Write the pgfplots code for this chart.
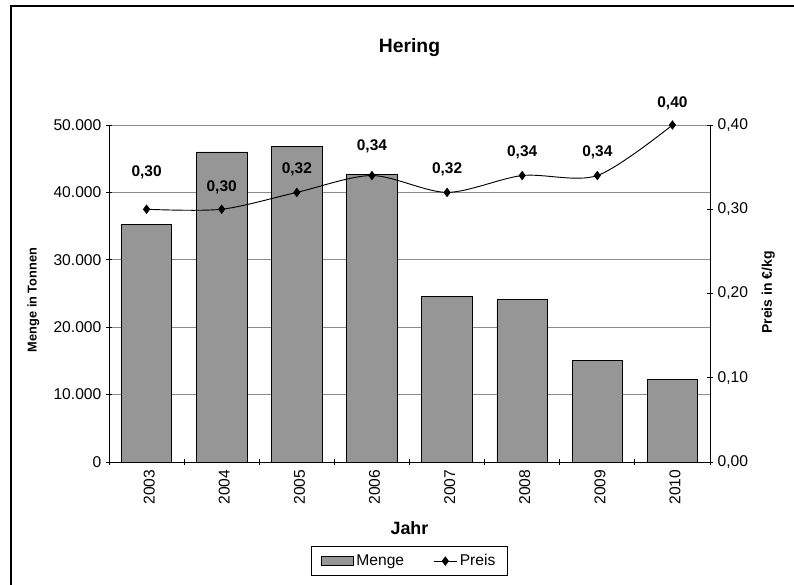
\documentclass[border=0pt]{standalone}
\usepackage{pgfplots}
\pgfplotsset{compat=1.18}
\usepackage{pgfplotstable}
\usepackage{fontspec}
\setmainfont{Liberation Sans}

\definecolor{barGray}{HTML}{969696}
\definecolor{gridGray}{HTML}{8C8C8C}
\newcommand\fs[1]{\fontsize{#1}{#1}\selectfont}

% Menge in Tonnen
\pgfplotstableread{
x jahr menge
0 2003 35300
1 2004 46000
2 2005 46800
3 2006 42600
4 2007 24600
5 2008 24100
6 2009 15000
7 2010 12200
}\mengedata

% Preis in Euro/kg, label text and label offset (px)
\pgfplotstableread{
x preis lab off
0 0.30 0,30 37
1 0.30 0,30 22
2 0.32 0,32 23
3 0.34 0,34 29
4 0.32 0,32 23
5 0.34 0,34 23
6 0.34 0,34 23
7 0.40 0,40 22
}\preisdata

\pgfplotsset{
  common/.style={
    scale only axis,
    width=450.75pt, height=252.75pt,
    xmin=-0.5, xmax=7.5,
    tick align=center,
    major tick length=4.5pt, minor tick length=4.5pt,
    tick style={black, line width=0.6pt},
    axis line style={black, line width=0.7pt},
    /pgf/number format/assume math mode=true,
  },
}

\begin{document}
\begin{tikzpicture}
\useasboundingbox (-81.75pt,-92.25pt) rectangle (513.75pt,346.5pt);

\begin{axis}[common,
  ymin=0, ymax=50000,
  axis y line*=left, axis x line*=bottom,
  xtick={0,...,7},
  xticklabels={2003,2004,2005,2006,2007,2008,2009,2010},
  major x tick style={draw=none},
  minor xtick={-0.5,0.5,1.5,2.5,3.5,4.5,5.5,6.5,7.5},
  xticklabel style={rotate=90, anchor=east, font=\fs{11.7}, yshift=-2pt},
  ytick={0,10000,20000,30000,40000,50000},
  scaled y ticks=false,
  yticklabel style={font=\fs{11.7}, /pgf/number format/1000 sep={.}},
  ymajorgrids,
  grid style={gridGray, line width=0.5pt},
  title={Hering},
  title style={at={(0.5,1.205)}, anchor=center, font=\fs{14.5}\bfseries},
  xlabel={Jahr},
  xlabel style={at={(0.5,-0.196)}, anchor=center, font=\fs{13.4}\bfseries},
  ylabel={Menge in Tonnen},
  ylabel style={at={(-0.126,0.481)}, anchor=center, rotate=0, font=\fs{9.6}\bfseries},
]
\addplot[ybar, bar width=37.9pt, fill=barGray, draw=black, line width=0.6pt]
  table[x=x, y=menge] {\mengedata};
\end{axis}

\begin{axis}[common,
  ymin=0, ymax=0.4,
  axis y line*=right, axis x line=none,
  ytick={0,0.1,0.2,0.3,0.4},
  yticklabel style={font=\fs{11.7},
    /pgf/number format/.cd, fixed, fixed zerofill, precision=2, use comma},
  ylabel={Preis in €/kg},
  ylabel style={at={(1.097,0.503)}, anchor=center, rotate=0, font=\fs{10.5}\bfseries},
  legend style={at={(0.5,-0.294)}, anchor=center, draw=black, line width=0.6pt,
    font=\fs{11.7}, legend columns=2, inner xsep=7pt, inner ysep=4pt,
    /tikz/every even column/.append style={column sep=20pt}},
]
\addlegendimage{legend image code/.code={\draw[fill=barGray, draw=black, line width=0.6pt] (0pt,-3.5pt) rectangle (24pt,3.5pt);}}
\addlegendentry{Menge}
\addplot[black, line width=0.7pt, smooth, tension=0.5,
  mark=diamond*, mark size=3pt, mark options={solid, fill=black},
  nodes near coords, point meta=explicit symbolic,
  visualization depends on={\thisrow{off}\as\myoff},
  every node near coord/.append style={anchor=center, yshift=\myoff*0.75pt,
    font=\fs{11.6}\bfseries, inner sep=0pt}]
  table[x=x, y=preis, meta=lab] {\preisdata};
\addlegendentry{Preis}
\end{axis}

\draw[black, line width=1.1pt] (-73.5pt,-120pt) rectangle (540pt,342pt);
\end{tikzpicture}
\end{document}
